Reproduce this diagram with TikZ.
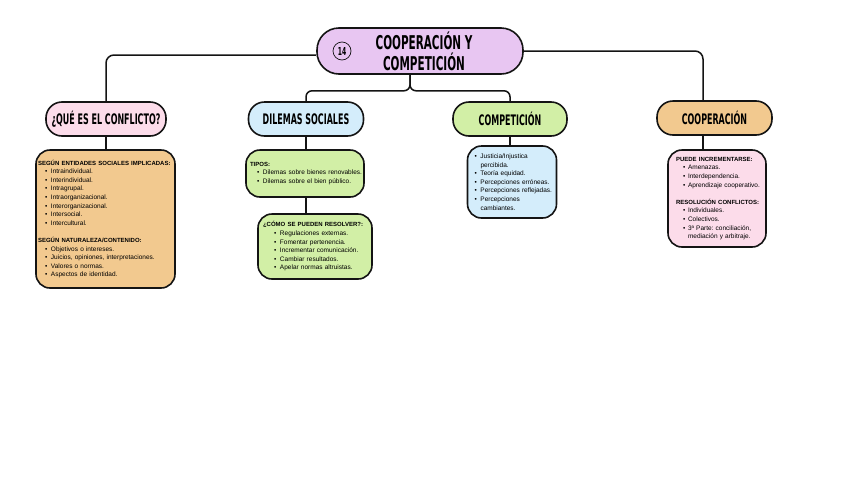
\documentclass[tikz,border=0pt]{standalone}
\usepackage{fontspec}
\setmainfont{Liberation Sans}
\newfontfamily\headfont{DejaVu Sans Bold}[FakeStretch=0.55]
\frenchspacing
\definecolor{ink}{HTML}{141414}
\definecolor{lav}{HTML}{E8C6F2}
\definecolor{pinkc}{HTML}{FCDCEA}
\definecolor{bluec}{HTML}{D4EDFB}
\definecolor{greenc}{HTML}{D2EFA6}
\definecolor{tanc}{HTML}{F2C98F}
\newcommand\itm[3]{\hspace*{#1}\makebox[#2][l]{•}\mbox{#3}}
\newcommand\hd[1]{\mbox{\fontsize{6}{8.6}\selectfont\bfseries #1}}
\tikzset{
  conn/.style={draw=ink, line width=1.5pt, rounded corners=8pt},
  titlebox/.style={draw=ink, line width=1.6pt, fill=lav, rounded corners=22pt,
    minimum width=206pt, minimum height=46pt, inner sep=0pt, align=center,
    font=\headfont\fontsize{19}{21}\selectfont},
  numcirc/.style={draw=ink, line width=0.7pt, circle, minimum size=18pt, inner sep=0pt,
    font=\headfont\fontsize{11}{11}\selectfont},
  hbox/.style={draw=ink, line width=1.6pt, rounded corners=16pt, minimum height=34pt,
    inner sep=0pt, font=\headfont\fontsize{14.5}{15}\selectfont},
  dbox/.style={draw=ink, line width=1.6pt, rounded corners=14pt, align=left,
    inner ysep=0pt, font=\fontsize{6.5}{8.6}\selectfont\frenchspacing},
}
\begin{document}
\begin{tikzpicture}[x=1pt,y=-1pt]
\fill[white] (0,0) rectangle (848,477);
\useasboundingbox (0,0) rectangle (848,477);

% title
\node[titlebox] (title) at (420,51) {\hspace*{8pt}COOPERACIÓN Y\\\hspace*{8pt}COMPETICIÓN};
\node[numcirc] (num) at (342,51) {14};

% level 1
\node[hbox, fill=pinkc, minimum width=120pt] (conf) at (106,119) {¿QUÉ ES EL CONFLICTO?};
\node[hbox, fill=bluec, minimum width=115pt] (dil) at (306,119) {DILEMAS SOCIALES};
\node[hbox, fill=greenc, minimum width=114pt] (comp) at (510,119) {COMPETICIÓN};
\node[hbox, fill=tanc, minimum width=115pt] (coop) at (714.5,118) {COOPERACIÓN};

% details
\node[dbox, fill=tanc, minimum height=138pt, inner xsep=2pt, text width=135pt] (confd) at (105.5,219)
{\hd{SEGÚN ENTIDADES SOCIALES IMPLICADAS:}\\
\itm{7pt}{6pt}{Intraindividual.}\\
\itm{7pt}{6pt}{Interindividual.}\\
\itm{7pt}{6pt}{Intragrupal.}\\
\itm{7pt}{6pt}{Intraorganizacional.}\\
\itm{7pt}{6pt}{Interorganizacional.}\\
\itm{7pt}{6pt}{Intersocial.}\\
\itm{7pt}{6pt}{Intercultural.}\\[8.6pt]
\hd{SEGÚN NATURALEZA/CONTENIDO:}\\
\itm{7pt}{6pt}{Objetivos o intereses.}\\
\itm{7pt}{6pt}{Juicios, opiniones, interpretaciones.}\\
\itm{7pt}{6pt}{Valores o normas.}\\
\itm{7pt}{6pt}{Aspectos de identidad.}};

\node[dbox, fill=greenc, minimum height=47pt, inner xsep=4pt, text width=110pt] (tipos) at (305,173.5)
{\hd{TIPOS:}\\
\itm{7pt}{6pt}{Dilemas sobre bienes renovables.}\\
\itm{7pt}{6pt}{Dilemas sobre el bien público.}};

\node[dbox, fill=greenc, minimum height=65pt, inner xsep=5pt, text width=104pt] (como) at (315,246.5)
{\hd{¿CÓMO SE PUEDEN RESOLVER?:}\\
\itm{11pt}{6pt}{Regulaciones externas.}\\
\itm{11pt}{6pt}{Fomentar pertenencia.}\\
\itm{11pt}{6pt}{Incrementar comunicación.}\\
\itm{11pt}{6pt}{Cambiar resultados.}\\
\itm{11pt}{6pt}{Apelar normas altruistas.}};

\node[dbox, fill=bluec, minimum height=72pt, inner xsep=7pt, text width=75pt] (compd) at (512,182)
{\itm{0pt}{6pt}{Justicia/Injustica}\\
\hspace*{6pt}percibida.\\
\itm{0pt}{6pt}{Teoría equidad.}\\
\itm{0pt}{6pt}{Percepciones erróneas.}\\
\itm{0pt}{6pt}{Percepciones reflejadas.}\\
\itm{0pt}{6pt}{Percepciones}\\
\hspace*{6pt}cambiantes.};

\node[dbox, fill=pinkc, minimum height=97pt, inner xsep=8pt, text width=82pt] (coopd) at (717,198.5)
{\hd{PUEDE INCREMENTARSE:}\\
\itm{7pt}{5pt}{Amenazas.}\\
\itm{7pt}{5pt}{Interdependencia.}\\
\itm{7pt}{5pt}{Aprendizaje cooperativo.}\\[8.6pt]
\hd{RESOLUCIÓN CONFLICTOS:}\\
\itm{7pt}{5pt}{Individuales.}\\
\itm{7pt}{5pt}{Colectivos.}\\
\itm{7pt}{5pt}{3ª Parte: conciliación,}\\
\hspace*{12pt}mediación y arbitraje.};

% connectors
\coordinate (cstem) at (703,118);
\coordinate (tstem) at ([xshift=-10pt]title.south);
\draw[conn] ([yshift=-4pt]title.west) -| (conf.north);
\draw[conn] (title.east) -| (cstem |- coop.north);
\draw[conn, rounded corners=6pt] (tstem) -- ++(0,16) -| (dil.north);
\draw[conn, rounded corners=6pt] (tstem) -- ++(0,16) -| (comp.north);
\draw[conn] (conf.south) -- (confd.north -| conf.south);
\draw[conn] (dil.south) -- (tipos.north -| dil.south);
\draw[conn] (tipos.south -| dil.south) -- (como.north -| dil.south);
\draw[conn] (comp.south) -- (compd.north -| comp.south);
\draw[conn] (cstem |- coop.south) -- (cstem |- coopd.north);
\end{tikzpicture}
\end{document}
